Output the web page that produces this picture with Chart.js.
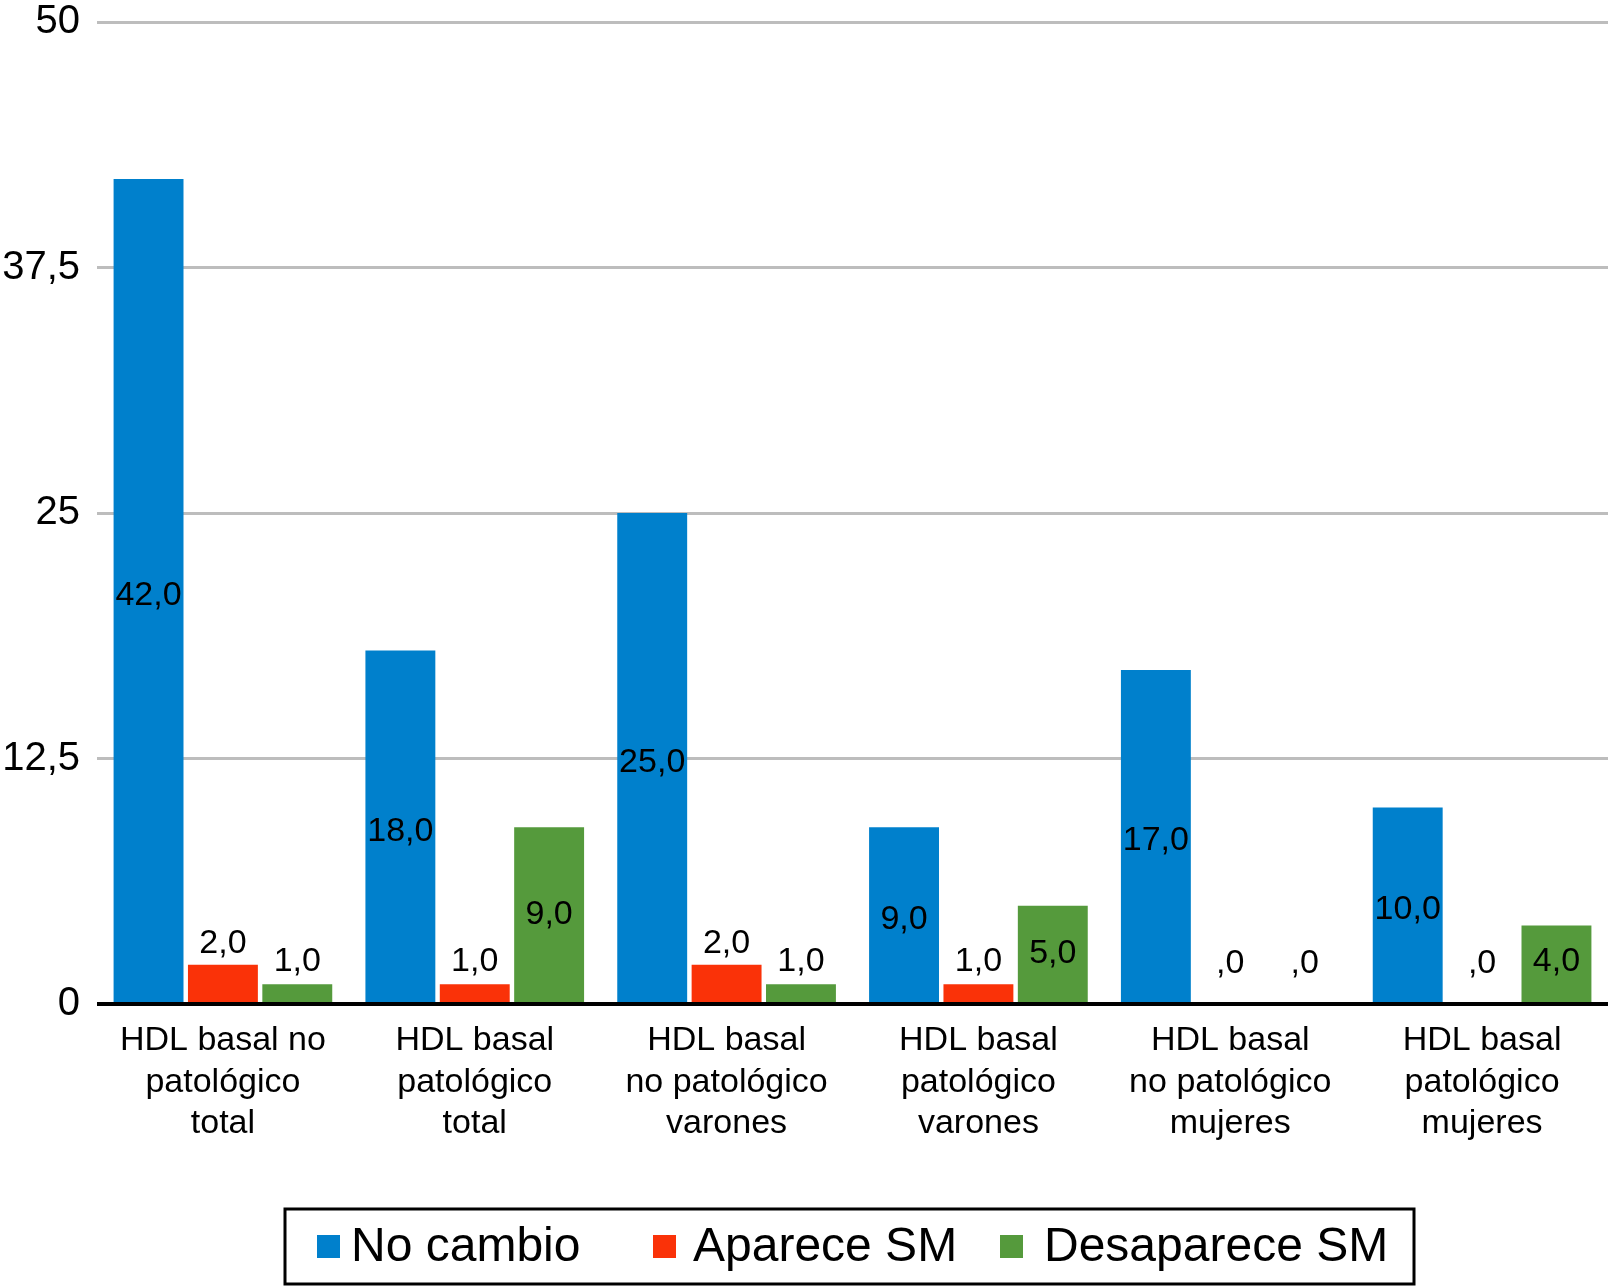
<!DOCTYPE html>
<html>
<head>
<meta charset="UTF-8">
<title>HDL basal y SM</title>
<style type="text/css">
html, body {
	margin: 0;
	padding: 0;
	background: #ffffff;
}
.container {
	width: 1608px;
	height: 1286px;
}
</style>
<script src="https://cdn.jsdelivr.net/npm/chart.js@4.4.1/dist/chart.umd.min.js"></script>
</head>
<body>
<div class="container"><canvas id="grafica"></canvas></div>
<script type="text/javascript">
	// Datos
	var categorias = [
		["HDL basal no", "patológico", "total"],
		["HDL basal", "patológico", "total"],
		["HDL basal", "no patológico", "varones"],
		["HDL basal", "patológico", "varones"],
		["HDL basal", "no patológico", "mujeres"],
		["HDL basal", "patológico", "mujeres"]
	];
	var noCambio = [42, 18, 25, 9, 17, 10];
	var apareceSM = [2, 1, 2, 1, 0, 0];
	var desapareceSM = [1, 9, 1, 5, 0, 4];
	var nombresSeries = ["No cambio", "Aparece SM", "Desaparece SM"];
	var coloresSeries = ["#0080cc", "#fa3208", "#559a3c"];
	var ticksY = [0, 12.5, 25, 37.5, 50];

	var fuente = "'Liberation Sans', Arial, Helvetica, sans-serif";

	// Formato con coma decimal (0 se muestra como ",0")
	function formatoValor(v) {
		if (v === 0) return ",0";
		return v.toFixed(1).replace(".", ",");
	}

	// Etiquetas de datos sobre las barras
	var etiquetasPlugin = {
		id: "etiquetas",
		afterDatasetsDraw: function(chart) {
			var ctx = chart.ctx;
			ctx.save();
			ctx.font = "34px " + fuente;
			ctx.fillStyle = "#000";
			ctx.textAlign = "center";
			ctx.textBaseline = "middle";
			chart.data.datasets.forEach(function(ds, i) {
				var meta = chart.getDatasetMeta(i);
				meta.data.forEach(function(bar, j) {
					var medio = (bar.y + bar.base) / 2;
					var y;
					if (i == 0) y = medio + 5;
					else if (i == 1) y = Math.min(bar.y - 21, bar.base - 40);
					else y = Math.min(medio, bar.base - 40);
					ctx.fillText(formatoValor(ds.data[j]), bar.x, y);
				});
			});
			ctx.restore();
		}
	};

	// Leyenda con recuadro, como en la figura original
	var leyendaPlugin = {
		id: "leyendaCaja",
		afterDraw: function(chart) {
			var ctx = chart.ctx;
			ctx.save();
			ctx.strokeStyle = "#000";
			ctx.lineWidth = 3;
			ctx.strokeRect(285, 1209, 1129, 75);
			var cuadros = [317, 653, 1000];
			var textos = [351, 693, 1044];
			ctx.font = "48px " + fuente;
			ctx.textBaseline = "middle";
			ctx.textAlign = "left";
			chart.data.datasets.forEach(function(ds, i) {
				ctx.fillStyle = ds.backgroundColor;
				ctx.fillRect(cuadros[i], 1235, 23, 23);
				ctx.fillStyle = "#000";
				ctx.fillText(ds.label, textos[i], 1248);
			});
			ctx.restore();
		}
	};

	var ctx = document.getElementById("grafica").getContext("2d");
	var grafica = new Chart(ctx, {
		type: "bar",
		data: {
			labels: categorias,
			datasets: [
				{ label: nombresSeries[0], data: noCambio, backgroundColor: coloresSeries[0] },
				{ label: nombresSeries[1], data: apareceSM, backgroundColor: coloresSeries[1] },
				{ label: nombresSeries[2], data: desapareceSM, backgroundColor: coloresSeries[2] }
			]
		},
		options: {
			responsive: true,
			maintainAspectRatio: false,
			animation: false,
			devicePixelRatio: 1,
			categoryPercentage: 0.886,
			barPercentage: 0.94,
			layout: { padding: { top: 0, right: 0, bottom: 0, left: 0 } },
			plugins: {
				legend: { display: false },
				tooltip: { enabled: false }
			},
			scales: {
				x: {
					grid: { display: false, drawTicks: false },
					border: { display: false },
					ticks: {
						color: "#000",
						padding: 16,
						maxRotation: 0,
						autoSkip: false,
						font: { family: fuente, size: 34, lineHeight: 1.22 }
					},
					afterFit: function(scale) { scale.height = 282; }
				},
				y: {
					min: 0,
					max: 50,
					afterBuildTicks: function(scale) {
						scale.ticks = ticksY.map(function(v) { return { value: v }; });
					},
					grid: {
						drawTicks: false,
						color: function(c) { return c.tick && c.tick.value === 0 ? "#000" : "#bdbdbd"; },
						lineWidth: function(c) { return c.tick && c.tick.value === 0 ? 4 : 3; }
					},
					border: { display: false },
					ticks: {
						color: "#000",
						padding: 17,
						font: { family: fuente, size: 40, lineHeight: 1.1 },
						callback: function(v) { return String(v).replace(".", ","); }
					},
					afterFit: function(scale) {
						scale.width = 97;
						scale.paddingTop = 22;
						scale.paddingBottom = 0;
					}
				}
			}
		},
		plugins: [etiquetasPlugin, leyendaPlugin]
	});
</script>
</body>
</html>
